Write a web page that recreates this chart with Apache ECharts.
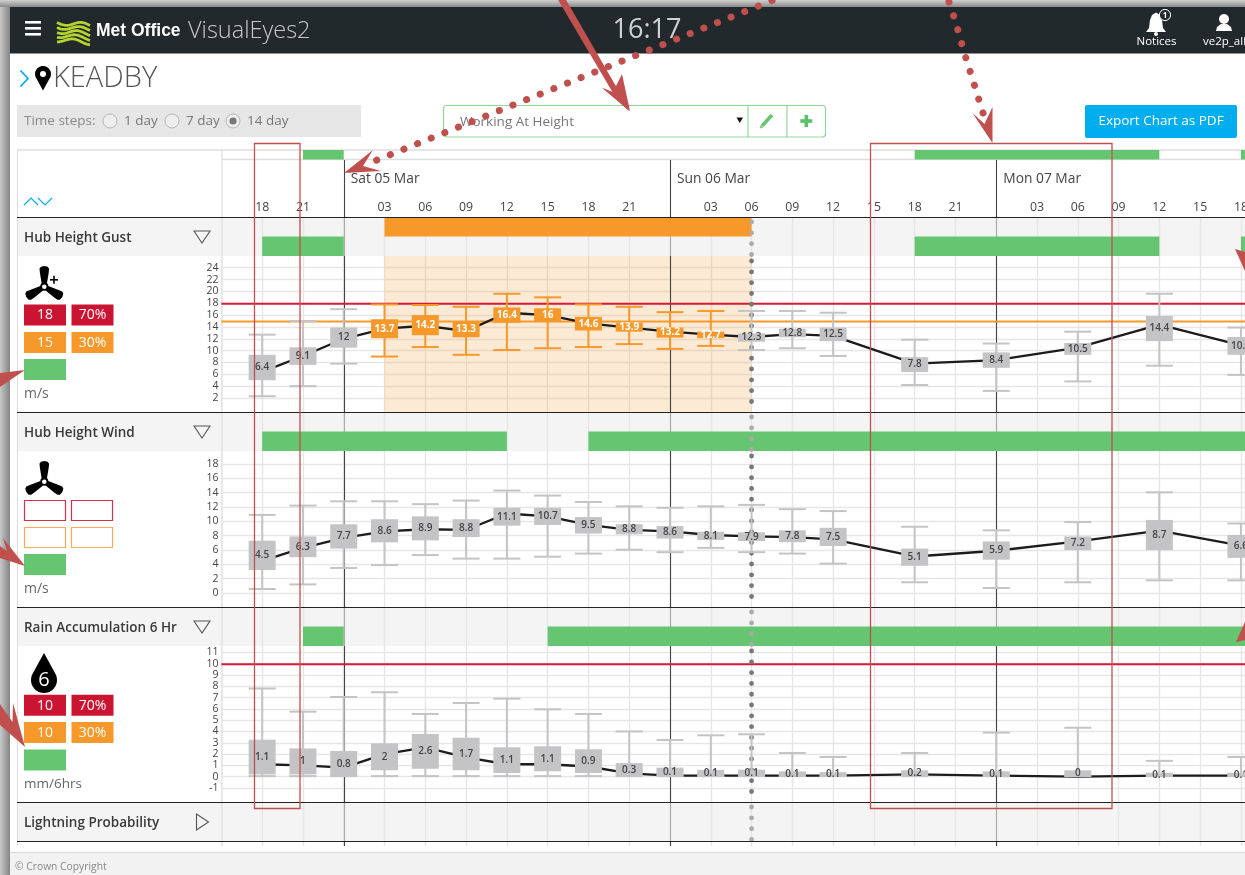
<!DOCTYPE html>
<html><head><meta charset="utf-8">
<style>html,body{margin:0;padding:0;background:#fff;overflow:hidden}#c{width:1245px;height:875px}</style>
<script src="https://cdn.jsdelivr.net/npm/echarts@6/dist/echarts.min.js"></script>
</head><body><div id="c"></div>
<script>
// ---------- data ----------
const hourLabels=['18','21','','03','06','09','12','15','18','21','','03','06','09','12','15','18','21','','03','06','09','12','15','18'];
const dayPositions=[2,10,18];
const dayLabels=['Sat 05 Mar','Sun 06 Mar','Mon 07 Mar'];
const steps=[0,1,2,3,4,5,6,7,8,9,10,11,12,13,14,16,18,20,22,24];
const nowStep=[12];
const openEnd=24.1;

const gustLabels=[6.4,9.1,12,13.7,14.2,13.3,16.4,16,14.6,13.9,13.2,12.7,12.3,12.8,12.5,7.8,8.4,10.5,14.4,10.9];
const gustLow=[2.3,4.0,7.8,9.0,10.6,9.3,10.1,10.4,10.6,11.1,10.3,10.8,10.1,10.4,9.1,4.2,3.2,4.8,7.45,5.9];
const gustHigh=[12.7,15.0,17.0,17.8,17.7,17.4,19.6,19.0,17.8,17.4,16.5,16.7,16.7,16.7,16.4,11.85,11.2,13.2,19.6,13.9];
const gustBoxLow=[5.0,7.6,10.5,12.1,12.6,12.25,14.7,14.9,13.4,13.2,12.2,12.1,11.5,12.25,11.6,6.4,7.1,9.3,11.6,9.3];
const gustBoxHigh=[9.3,10.56,13.9,15.3,16.0,15.0,17.3,17.15,15.7,14.7,13.9,13.2,12.9,13.7,13.9,8.9,9.7,11.3,15.85,12.3];

const windLabels=[4.5,6.3,7.7,8.6,8.9,8.8,11.1,10.7,9.5,8.8,8.6,8.1,7.9,7.8,7.5,5.1,5.9,7.2,8.7,6.6];
const windLow=[0.56,1.2,3.5,3.9,5.3,4.8,4.8,5.07,5.5,6.05,5.7,6.3,5.7,5.5,4.1,1.5,0.7,1.5,1.77,1.77];
const windHigh=[10.9,12.2,12.8,12.8,12.4,12.9,14.3,13.6,12.7,12.1,11.9,12.1,12.3,11.7,11.44,9.25,8.75,9.9,14.05,9.7];
const windBoxLow=[3.2,5.0,6.2,7.07,7.35,7.8,9.4,9.5,8.3,8.2,7.6,7.4,7.26,7.1,6.56,3.8,4.65,6,6,4.9];
const windBoxHigh=[7.3,7.9,9.6,10.3,10.7,10.3,11.9,11.9,10.6,9.6,9.35,8.55,8.47,8.75,9.1,6.2,7.2,7.9,10.2,8.1];

const rainLabels=[1.1,1,0.8,2,2.6,1.7,1.1,1.1,0.9,0.3,0.1,0.1,0.1,0.1,0.1,0.2,0.1,0,0.1,0.1];
const rainLow=[0.05,0.05,0.05,0.05,0.05,0.05,0.05,0.05,0.05,0.05,0.05,0.05,0.05,0.05,0.05,0.05,0.05,0.05,0.05,0.05];
const rainHigh=[7.8,5.75,7.05,7.47,5.55,6.52,6.9,5.96,5.55,4.0,3.25,3.66,3.75,2.1,1.74,2.1,3.9,4.33,1.4,1.74];
const rainBoxLow=[0.2,0.2,0,0.57,0.7,0.57,0.33,0.48,0.33,0,0,0,0,0,0,0.06,0,0,0,0];
const rainBoxHigh=[3.27,2.5,2.27,2.95,3.78,3.45,2.6,2.69,2.42,1.2,0.8,0.6,0.62,0.47,0.4,0.56,0.47,0.56,0.35,0.35];

const overallGreen=[[1,2],[16,22],[24,openEnd]];
const gustGreen=[[0,2],[16,22],[24,openEnd]];
const gustAmber=[[3,12]];
const windGreen=[[0,6],[8,openEnd]];
const rainGreen=[[1,2],[7,openEnd]];

const gustTicks=[2,4,6,8,10,12,14,16,18,20,22,24];
const windTicks=[0,2,4,6,8,10,12,14,16,18];
const rainTicks=[-1,0,1,2,3,4,5,6,7,8,9,10,11];
const gustRedLine=18, gustAmberLine=15, rainRedLine=10;

// ---------- styles ----------
const FONT='"Open Sans","Noto Sans",sans-serif';
const GREEN='#66c571',AMBER='#f7982a',RED='#cb1432',GREY='#c4c4c6',ANNO='#c0504d';
const GL=221.4, GW=1023.6;

const grids=[],xAxes=[],yAxes=[],series=[];
function addGrid(top,h,yOpt,showSplit){
  const i=grids.length;
  grids.push({left:GL,width:GW,top:top,height:h,containLabel:false,outerBoundsMode:'none'});
  xAxes.push({type:'value',gridIndex:i,min:-1,max:openEnd,interval:1,
    axisLine:{show:false},axisTick:{show:false},axisLabel:{show:false},
    splitLine:{show:showSplit!==false,lineStyle:{color:'#e6e6e6',width:1.4}}});
  yAxes.push(Object.assign({type:'value',gridIndex:i,min:0,max:1,axisLine:{show:false},axisTick:{show:false},
    axisLabel:{show:false},splitLine:{show:false}},yOpt||{}));
  return i;
}
function panelAxis(min,max,ticks){
  return {min:min,max:max,
    axisTick:{show:false,customValues:ticks},
    axisLabel:{show:true,customValues:ticks,margin:3,fontSize:10.5,color:'#444',fontFamily:FONT,showMinLabel:true,showMaxLabel:true,padding:[3,0,0,0]},
    splitLine:{show:true,lineStyle:{color:'#e6e6e6',width:1.4}}};
}
function bars(grid,ranges,color,lane,laneH){
  series.push({type:'custom',xAxisIndex:grid,yAxisIndex:grid,silent:true,z:3,
    data:ranges.map(r=>[r[0],r[1]]),
    renderItem:(p,api)=>{
      const a=api.coord([api.value(0),lane+laneH]),b=api.coord([api.value(1),lane]);
      return {type:'rect',shape:{x:a[0],y:a[1],width:b[0]-a[0],height:b[1]-a[1]},style:{fill:color}};
    }});
}
function dayLines(grid,color){
  series.push({type:'custom',xAxisIndex:grid,yAxisIndex:grid,silent:true,z:3,clip:false,
    data:dayPositions.map(d=>[d]),
    renderItem:(p,api)=>{
      const x=Math.round(api.coord([api.value(0),0])[0])+0.5;
      return {type:'line',shape:{x1:x,x2:x,y1:p.coordSys.y,y2:p.coordSys.y+p.coordSys.height},
        style:{stroke:color,lineWidth:1.1}};
    }});
}
function nowLine(grid,color){
  series.push({type:'custom',xAxisIndex:grid,yAxisIndex:grid,silent:true,z:4,
    data:nowStep.map(d=>[d]),
    renderItem:(p,api)=>{
      const x=api.coord([api.value(0),0])[0];
      return {type:'line',shape:{x1:x,x2:x,y1:p.coordSys.y+5,y2:p.coordSys.y+p.coordSys.height},
        style:{stroke:color,lineWidth:4.8,lineCap:'round',lineDash:[0.1,10.7]}};
    }});
}
function threshold(grid,value,color){
  series.push({type:'custom',xAxisIndex:grid,yAxisIndex:grid,silent:true,z:3,
    data:[[value]],
    renderItem:(p,api)=>{
      const y=api.coord([0,api.value(0)])[1]+0.5;
      return {type:'line',shape:{x1:p.coordSys.x,x2:p.coordSys.x+p.coordSys.width,y1:y,y2:y},
        style:{stroke:color,lineWidth:2}};
    }});
}
function panelSeries(grid,labels,low,high,boxLow,boxHigh,amberRanges){
  series.push({type:'line',xAxisIndex:grid,yAxisIndex:grid,silent:true,z:5,symbol:'none',animation:false,
    data:steps.map((s,i)=>[s,labels[i]]),lineStyle:{color:'#1c1c1c',width:2.3}});
  series.push({type:'custom',xAxisIndex:grid,yAxisIndex:grid,silent:true,z:6,clip:false,
    data:steps.map((s,i)=>[s,low[i],high[i],boxLow[i],boxHigh[i],labels[i]]),
    renderItem:(p,api)=>{
      const s=api.value(0);
      const hot=(amberRanges||[]).some(r=>s>=r[0]&&s<r[1]-0.5);
      const col=hot?AMBER:GREY;
      const x=api.coord([s,0])[0];
      const yl=api.coord([s,api.value(1)])[1],yh=api.coord([s,api.value(2)])[1];
      const bl=api.coord([s,api.value(3)])[1],bh=api.coord([s,api.value(4)])[1];
      const hw=13.5;
      const st={stroke:col,lineWidth:2};
      return {type:'group',children:[
        {type:'line',shape:{x1:x,x2:x,y1:yl,y2:yh},style:st},
        {type:'line',shape:{x1:x-hw,x2:x+hw,y1:yl,y2:yl},style:st},
        {type:'line',shape:{x1:x-hw,x2:x+hw,y1:yh,y2:yh},style:st},
        {type:'rect',shape:{x:x-hw,y:bh,width:hw*2,height:bl-bh},style:{fill:col}},
        {type:'text',style:{text:String(api.value(5)),x:x,y:(bh+bl)/2,textAlign:'center',textVerticalAlign:'middle',
          font:(hot?'700 ':'600 ')+'10px '+FONT,fill:hot?'#fff':'#444'}}
      ]};
    }});
}

// header grid: hour labels + day labels
const gHead=addGrid(160,57,{},false);
xAxes[gHead].axisLabel={show:true,inside:true,margin:4,fontSize:12.3,color:'#444',fontFamily:FONT,
  formatter:v=>hourLabels[v]===undefined?'':hourLabels[v],showMinLabel:false,showMaxLabel:false,hideOverlap:false};
dayLines(gHead,'#444');
series.push({type:'custom',xAxisIndex:gHead,yAxisIndex:gHead,silent:true,z:3,clip:false,
  data:dayPositions.map((d,i)=>[d,dayLabels[i]]),
  renderItem:(p,api)=>{
    const c=api.coord([api.value(0),0.66]);
    return {type:'text',style:{text:dayLabels[p.dataIndex],x:c[0]+7,y:c[1],textVerticalAlign:'middle',font:'13.8px '+FONT,fill:'#444'}};
  }});

// overall strip
const gTop=addGrid(150,9.5,{},false);
bars(gTop,overallGreen,GREEN,0,1);

// Hub height gust
const gRow1=addGrid(217,39,{min:0,max:2});
dayLines(gRow1,'#aaa');
bars(gRow1,gustGreen,GREEN,0,1);
bars(gRow1,gustAmber,AMBER,1,1);
nowLine(gRow1,'#aaa');
const gP1=addGrid(256,156,panelAxis(-0.365,25.98,gustTicks));
series.push({type:'custom',xAxisIndex:gP1,yAxisIndex:gP1,silent:true,z:2,
  data:gustAmber.map(r=>[r[0],r[1]]),
  renderItem:(p,api)=>{
    const a=api.coord([api.value(0),0])[0],b=api.coord([api.value(1),0])[0];
    return {type:'rect',shape:{x:a,y:p.coordSys.y,width:b-a,height:p.coordSys.height},style:{fill:'rgba(247,152,42,0.2)'}};
  }});
dayLines(gP1,'#444');
threshold(gP1,gustRedLine,'#d8193a');
threshold(gP1,gustAmberLine,AMBER);
nowLine(gP1,'#777');
panelSeries(gP1,gustLabels,gustLow,gustHigh,gustBoxLow,gustBoxHigh,gustAmber);

// Hub height wind
const gRow2=addGrid(412,39,{min:0,max:2});
dayLines(gRow2,'#aaa');
bars(gRow2,windGreen,GREEN,0,1);
nowLine(gRow2,'#aaa');
const gP2=addGrid(451,156,panelAxis(-1.95,19.82,windTicks));
dayLines(gP2,'#444');
nowLine(gP2,'#777');
panelSeries(gP2,windLabels,windLow,windHigh,windBoxLow,windBoxHigh);

// Rain
const gRow3=addGrid(607,39,{min:0,max:2});
dayLines(gRow3,'#aaa');
bars(gRow3,rainGreen,GREEN,0,1);
nowLine(gRow3,'#aaa');
const gP3=addGrid(646,156,panelAxis(-2.24,11.56,rainTicks));
dayLines(gP3,'#444');
threshold(gP3,rainRedLine,'#d8193a');
nowLine(gP3,'#777');
panelSeries(gP3,rainLabels,rainLow,rainHigh,rainBoxLow,rainBoxHigh);

// Lightning + foot
const gRow4=addGrid(802,39,{});
dayLines(gRow4,'#aaa');
nowLine(gRow4,'#aaa');
const gFoot=addGrid(841,5,{});
dayLines(gFoot,'#444');

// ---------- page furniture (graphic) ----------
const G=[];
const rect=(x,y,w,h,fill,z,extra)=>G.push(Object.assign({type:'rect',silent:true,z:z===undefined?-5:z,shape:Object.assign({x,y,width:w,height:h},extra&&extra.shape||{}),style:Object.assign({fill},extra&&extra.style||{})}));
const txt=(t,x,y,font,fill,align,z)=>G.push({type:'text',silent:true,z:z===undefined?1:z,style:{text:t,x,y,font:font+' '+FONT,fill,textAlign:align||'left',textVerticalAlign:'middle'}});
const hline=(x1,x2,y,c,w,z)=>G.push({type:'line',silent:true,z:z===undefined?1:z,shape:{x1,x2,y1:y,y2:y},style:{stroke:c,lineWidth:w||1}});
const vline=(x,y1,y2,c,w,z)=>G.push({type:'line',silent:true,z:z===undefined?1:z,shape:{x1:x,x2:x,y1,y2},style:{stroke:c,lineWidth:w||1}});
const poly=(pts,fill,z,stroke,lw)=>G.push({type:'polygon',silent:true,z:z===undefined?1:z,shape:{points:pts},style:{fill:fill||'none',stroke:stroke||null,lineWidth:lw||1}});
const pline=(pts,c,w,z,extra)=>G.push({type:'polyline',silent:true,z:z===undefined?1:z,shape:{points:pts},style:Object.assign({stroke:c,lineWidth:w,fill:'none'},extra||{})});
const circ=(x,y,r,fill,stroke,lw,z)=>G.push({type:'circle',silent:true,z:z===undefined?1:z,shape:{cx:x,cy:y,r},style:{fill:fill||'none',stroke:stroke||null,lineWidth:lw||1}});

// page
rect(0,0,1245,875,'#fff',-10);
rect(0,0,10,875,{type:'linear',x:0,y:0,x2:1,y2:0,colorStops:[{offset:0,color:'#c8c8c8'},{offset:1,color:'#848484'}]},-9);
rect(0,0,1245,7,{type:'linear',x:0,y:0,x2:0,y2:1,colorStops:[{offset:0,color:'#d0d0d0'},{offset:1,color:'#8a8a8a'}]},-9);
rect(10,7,1235,46.5,'#22292c',-8);
rect(10,852,1235,23,'#f2f2f2',-8);
hline(10,1245,852.5,'#dcdcdc',1.5,-7);
txt('© Crown Copyright',15,867,'10.3px','#888');

// header bar
rect(25,21,16,2.6,'#fff',1);rect(25,27,16,2.6,'#fff',1);rect(25,33,16,2.6,'#fff',1);
[24.5,28.5,32.5,36.5,40.5].forEach((y,n)=>{
  const p=[];for(let k=0;k<=16;k++){const t=k/16;p.push([57+33*t,y+(n-2)*0.3+2.2*Math.sin(t*6.3+n*0.4)+(0.5-t)*-3]);}
  pline(p,'#b4d431',2.8,1);
});
G.push({type:'text',silent:true,z:1,style:{text:'Met Office',x:96,y:31,font:'bold 17.5px "Liberation Sans Narrow","Liberation Sans",sans-serif',fill:'#fff',textVerticalAlign:'middle'}});
G.push({type:'text',silent:true,z:1,style:{text:'VisualEyes2',x:188,y:31,font:'300 23.5px '+FONT,fill:'#c6c9ca',textVerticalAlign:'middle'}});
txt('16:17',647,30,'27px','#cfd1d2','center');
// bell
poly([[1146,32],[1149,28],[1150,20],[1152,15],[1156,12.5],[1160,15],[1162,20],[1163,28],[1166,32]],'#fff');
circ(1156,34,2,'#fff');
circ(1165,15,5.6,'#22292c','#fff',1);
txt('1',1165,15.3,'bold 8px','#fff','center');
txt('Notices',1156.5,41.5,'11.5px','#fff','center');
// user
circ(1224,19,5,'#fff');
poly([[1216,31],[1217,27],[1221,24],[1227,24],[1231,27],[1232,31]],'#fff');
txt('ve2p_all',1203,41.5,'11.5px','#fff');

// title
pline([[20.5,70.5],[28,78.5],[20.5,86.5]],'#00aeef',1.8);
(function(){const p=[];for(let a=-215;a<=35;a+=10){const r=a*Math.PI/180;p.push([43+8*Math.cos(r),74+8*Math.sin(r)]);}p.push([43,90.5]);poly(p,'#000');circ(43,74,3,'#fff');})();
txt('KEADBY',53,79,'300 29px','#555');

// controls
rect(17,105,344,32,'#e6e6e6',-4);
txt('Time steps:',24,121.5,'13.5px','#8a8a8a');
[110,172,233].forEach((x,i)=>{circ(x,121,7,'#eeeeee','#b5b5b5',1);if(i===2)circ(x,121,3.6,'#777');});
txt('1 day',124,121.5,'13.5px','#777');
txt('7 day',186,121.5,'13.5px','#777');
txt('14 day',247,121.5,'13.5px','#777');

G.push({type:'rect',silent:true,z:-4,shape:{x:443.5,y:105.5,width:382,height:31.5,r:3},style:{fill:'#fff',stroke:'#93d69a',lineWidth:1.2}});
vline(748,105.5,137,'#93d69a',1.2,-3);vline(787,105.5,137,'#93d69a',1.2,-3);
txt('Working At Height',460,122.5,'13.5px','#777');
poly([[736.5,117.5],[743,117.5],[739.75,123]],'#111');
pline([[762,126],[772,115]],'#66c571',3.4,1);
poly([[760,128.5],[760.5,125],[763,127.5]],'#66c571');
rect(804.5,115,3.6,12,'#5cc06a',1);rect(800.3,119.2,12,3.6,'#5cc06a',1);
G.push({type:'rect',silent:true,z:-3,shape:{x:1085,y:105,width:152,height:33,r:2},style:{fill:'#00aeef'}});
txt('Export Chart as PDF',1161,121.5,'13.5px','#fff','center');

// table frame
rect(17,217,1228,39,'#f4f4f4',-4);
rect(17,412,1228,39,'#f4f4f4',-4);
rect(17,607,1228,39,'#f4f4f4',-4);
rect(17,802,1228,39,'#f4f4f4',-4);
hline(17,1245,150,'#dedede',1.4,-3);
hline(222,1245,159.5,'#dedede',1.4,-3);
vline(17.5,150,846,'#dedede',1.2,-3);
vline(222,150,846,'#dedede',1.2,-3);
[217.5,412.5,607.5,802.5,841.5].forEach(y=>hline(17,1245,y,'#222',1.2,7));
pline([[24,205],[31,198],[38,205]],'#00aeef',1.2);
pline([[38,198],[45,205],[52,198]],'#00aeef',1.2);

// row titles
const titleFont='600 13.5px';
txt('Hub Height Gust',24,238,titleFont,'#3a3a3a');
txt('Hub Height Wind',24,433,titleFont,'#3a3a3a');
txt('Rain Accumulation 6 Hr',24,628,titleFont,'#3a3a3a');
txt('Lightning Probability',24,823,titleFont,'#3a3a3a');
[231,426,621].forEach(y=>poly([[194,y],[210,y],[202,y+12]],'none',1,'#555',1.1));
poly([[196.5,814],[196.5,830],[208.5,822]],'none',1,'#555',1.1);

// turbine icon
function blades(cx,cy){
  const base=[[-2.6,-3],[-4.4,-14],[-4.8,-18],[-3.4,-20],[0,-20.8],[3.4,-20],[4.8,-18],[4.4,-14],[2.6,-3]];
  [0,120,240].forEach(d=>{const r=d*Math.PI/180;
    poly(base.map(p=>[cx+p[0]*Math.cos(r)-p[1]*Math.sin(r),cy+p[0]*Math.sin(r)+p[1]*Math.cos(r)]),'#000');});
  circ(cx,cy,3.2,'#fff','#000',1.8);
}
blades(44.3,286.7);
rect(50,279,8,1.6,'#000',1);rect(53.2,275.8,1.6,8,'#000',1);
blades(44.3,481.7);
// threshold boxes
function tile(x,y,t,fill,stroke){
  G.push({type:'rect',silent:true,z:1,shape:{x:x,y:y,width:stroke?41:42,height:stroke?20:21},style:{fill:fill,stroke:stroke||null,lineWidth:1.2}});
  if(t)txt(t,x+21,y+11,'14px','#fff','center',2);
}
tile(24,304.5,'18',RED);tile(71.5,304.5,'70%',RED);
tile(24,332,'15',AMBER);tile(71.5,332,'30%',AMBER);
tile(24,359,'',GREEN);
txt('m/s',24,394,'14px','#666');
tile(24.5,500.5,'', '#fff','#d8304c');tile(71.5,500.5,'', '#fff','#d8304c');
tile(24.5,527.5,'', '#fff','#f8aa58');tile(71.5,527.5,'', '#fff','#f8aa58');
tile(24,554,'',GREEN);
txt('m/s',24,589,'14px','#666');
tile(24,694.7,'10',RED);tile(71.5,694.7,'70%',RED);
tile(24,722,'10',AMBER);tile(71.5,722,'30%',AMBER);
tile(24,749.5,'',GREEN);
txt('mm/6hrs',24,784,'13.5px','#666');
// drop
(function(){const p=[[44,653]];for(let a=-30;a<=210;a+=10){const r=a*Math.PI/180;p.push([44+13*Math.cos(r),680+13*Math.sin(r)]);}poly(p,'#000');})();
txt('6',44,680,'20px','#fff','center',2);

// ---------- annotations ----------
const AZ=50;
rect(254.5,143.5,45.5,665,'none',AZ,{style:{stroke:ANNO,lineWidth:1.3}});
rect(870.5,143.5,241.5,665,'none',AZ,{style:{stroke:ANNO,lineWidth:1.3}});
poly([[557,-2],[565,-2],[617,88],[629,111],[603,88],[613,93]],ANNO,AZ);
poly([[630,111],[602,88],[613,92],[622,74]],ANNO,AZ);
pline([[772,0.5],[372,162]],ANNO,7,AZ,{lineCap:'round',lineDash:[0.1,14.6]});
poly([[344,173],[373,150],[363,166],[381,171]],ANNO,AZ);
pline([[949,2],[955,20],[965,55],[984,116]],ANNO,7,AZ,{lineCap:'round',lineDash:[0.1,14.4]});
poly([[992.5,143],[972.5,113],[984.5,124],[992.5,107]],ANNO,AZ);
poly([[25,370],[0,373],[0,387]],ANNO,AZ);
poly([[25,566],[3,538],[7,551],[0,546],[0,558]],ANNO,AZ);
poly([[25,747],[13,703],[12.5,722],[0,704],[0,725]],ANNO,AZ);
poly([[1235,249],[1245,252],[1245,271]],ANNO,AZ);
poly([[1236,642],[1245,622],[1245,640]],ANNO,AZ);

echarts.init(document.getElementById('c'),null,{renderer:'canvas'}).setOption({
  animation:false,
  tooltip:{show:false},
  grid:grids,xAxis:xAxes,yAxis:yAxes,series:series,
  graphic:{elements:G}
});
</script></body></html>
